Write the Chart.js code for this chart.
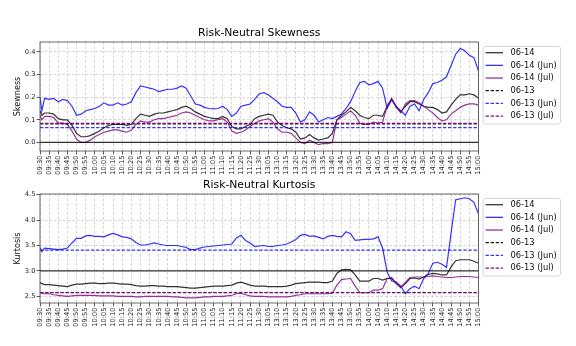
<!DOCTYPE html>
<html>
<head>
<meta charset="utf-8">
<script src="https://cdn.jsdelivr.net/npm/chart.js@4.4.1/dist/chart.umd.min.js"></script>
<style>
  html, body { margin: 0; padding: 0; background: #fff; }
  #wrap { position: relative; width: 576px; height: 346px; overflow: hidden; }
  canvas { position: absolute; left: 0; }
  #skewChart { top: 0; }
  #kurtChart { top: 176px; }
</style>
</head>
<body>
<div id="wrap">
  <canvas id="skewChart" width="576" height="180"></canvas>
  <canvas id="kurtChart" width="576" height="170"></canvas>
</div>
<script>
// x tick labels, one every 5 trading minutes (lunch break collapsed)
const tickLabels = ['09:30','09:35','09:40','09:45','09:50','09:55','10:00','10:05','10:10','10:15',
  '10:20','10:25','10:30','10:35','10:40','10:45','10:50','10:55','11:00','11:05','11:10','11:15',
  '11:20','11:25','11:30','13:05','13:10','13:15','13:20','13:25','13:30','13:35','13:40','13:45',
  '13:50','13:55','14:00','14:05','14:10','14:15','14:20','14:25','14:30','14:35','14:40','14:45',
  '14:50','14:55','15:00'];

// sample positions, in trading minutes since 09:30
const minutes = [0,1,2.5,5,7.5,10,12.5,15,17.5,20,
  22.5,25,27.5,30,32.5,35,37.5,40,42.5,45,
  47.5,50,52.5,55,57.5,60,62.5,65,67.5,70,
  72.5,75,77.5,80,82.5,85,87.5,90,92.5,95,
  97.5,100,102.5,105,107.5,110,112.5,115,117.5,120,
  122.5,125,127.5,130,132.5,135,137.5,140,142.5,145,
  147.5,150,152.5,155,157.5,160,162.5,165,167.5,170,
  172.5,175,177.5,180,182.5,185,187.5,190,192.5,195,
  197.5,200,202.5,205,207.5,210,212.5,215,217.5,220,
  222.5,225,227.5,230,232.5,235,237.5,240];

// skewness
const skewAll = [0.14,0.12,0.13,0.13,0.125,0.105,0.1,0.1,0.075,0.04,
  0.025,0.025,0.03,0.04,0.05,0.065,0.075,0.08,0.08,0.08,
  0.075,0.08,0.105,0.125,0.12,0.115,0.125,0.13,0.13,0.135,
  0.14,0.145,0.155,0.16,0.15,0.135,0.125,0.115,0.11,0.105,
  0.105,0.115,0.105,0.07,0.06,0.06,0.07,0.08,0.105,0.115,
  0.12,0.125,0.12,0.09,0.075,0.065,0.06,0.045,0.015,0.02,
  0.035,0.02,0.01,0.015,0.02,0.04,0.1,0.12,0.135,0.155,
  0.14,0.12,0.11,0.105,0.12,0.12,0.115,0.16,0.19,0.16,
  0.135,0.16,0.18,0.18,0.17,0.16,0.155,0.155,0.145,0.13,
  0.135,0.165,0.19,0.21,0.21,0.215,0.21,0.195];
const skewJun = [0.2,0.14,0.195,0.19,0.195,0.18,0.19,0.185,0.16,0.12,
  0.125,0.14,0.145,0.15,0.16,0.175,0.165,0.165,0.175,0.165,
  0.17,0.18,0.22,0.25,0.245,0.24,0.235,0.225,0.23,0.235,
  0.235,0.24,0.25,0.24,0.205,0.17,0.165,0.155,0.15,0.148,
  0.15,0.16,0.145,0.115,0.13,0.16,0.165,0.17,0.19,0.215,
  0.22,0.21,0.195,0.18,0.16,0.155,0.155,0.13,0.09,0.1,
  0.135,0.12,0.09,0.1,0.11,0.105,0.115,0.125,0.15,0.18,
  0.225,0.265,0.27,0.255,0.26,0.27,0.24,0.15,0.19,0.155,
  0.14,0.12,0.16,0.17,0.14,0.19,0.22,0.26,0.265,0.275,
  0.29,0.34,0.39,0.415,0.405,0.385,0.375,0.315];
const skewJul = [0.12,0.1,0.115,0.115,0.11,0.085,0.085,0.08,0.05,0.015,
  0.0,0.0,0.01,0.025,0.035,0.045,0.05,0.055,0.055,0.05,
  0.045,0.055,0.08,0.095,0.09,0.09,0.1,0.105,0.105,0.11,
  0.115,0.12,0.13,0.135,0.13,0.12,0.11,0.1,0.095,0.095,
  0.1,0.105,0.09,0.05,0.04,0.045,0.055,0.07,0.085,0.095,
  0.1,0.105,0.09,0.06,0.045,0.045,0.04,0.02,0.0,-0.005,
  0.01,0.0,-0.01,-0.005,-0.005,0.0,0.1,0.11,0.125,0.14,
  0.12,0.085,0.08,0.08,0.09,0.085,0.09,0.16,0.195,0.155,
  0.13,0.17,0.185,0.185,0.175,0.16,0.145,0.13,0.11,0.095,
  0.1,0.125,0.14,0.155,0.165,0.17,0.17,0.165];
const skewPrevDay = [0.082, 0.065, 0.084];   // 06-13, 06-13 (Jun), 06-13 (Jul)
const skewTicks = [0.0, 0.1, 0.2, 0.3, 0.4];

// kurtosis
const kurtAll = [2.77,2.75,2.73,2.73,2.72,2.71,2.7,2.69,2.72,2.74,
  2.74,2.75,2.76,2.76,2.75,2.75,2.76,2.76,2.75,2.74,
  2.74,2.73,2.71,2.7,2.7,2.71,2.71,2.7,2.7,2.69,
  2.69,2.69,2.68,2.67,2.66,2.66,2.67,2.68,2.69,2.7,
  2.7,2.7,2.71,2.72,2.76,2.78,2.75,2.72,2.7,2.7,
  2.7,2.69,2.69,2.69,2.69,2.7,2.72,2.75,2.76,2.77,
  2.78,2.78,2.78,2.77,2.77,2.8,2.95,3.02,3.03,3.02,
  2.92,2.8,2.8,2.8,2.85,2.85,2.82,2.85,2.85,2.75,
  2.67,2.75,2.85,2.86,2.84,2.88,2.93,2.95,2.94,2.92,
  2.92,3.08,3.2,3.22,3.22,3.22,3.19,3.15];
const kurtJun = [3.46,3.38,3.45,3.44,3.43,3.42,3.43,3.45,3.55,3.64,
  3.64,3.69,3.7,3.68,3.68,3.67,3.71,3.74,3.71,3.67,
  3.66,3.63,3.56,3.51,3.51,3.53,3.55,3.53,3.51,3.5,
  3.5,3.5,3.48,3.46,3.42,3.42,3.45,3.47,3.48,3.49,
  3.5,3.51,3.52,3.53,3.65,3.7,3.6,3.55,3.48,3.49,
  3.5,3.48,3.48,3.5,3.51,3.53,3.57,3.62,3.7,3.72,
  3.68,3.69,3.66,3.63,3.68,3.7,3.68,3.67,3.77,3.73,
  3.6,3.61,3.62,3.62,3.63,3.67,3.45,2.98,2.8,2.78,
  2.7,2.55,2.65,2.7,2.65,2.85,2.95,3.15,3.17,3.13,
  3.07,3.75,4.4,4.42,4.44,4.42,4.35,4.12];
const kurtJul = [2.57,2.56,2.55,2.55,2.53,2.52,2.51,2.5,2.51,2.52,
  2.52,2.52,2.52,2.52,2.51,2.51,2.51,2.51,2.5,2.5,
  2.5,2.5,2.49,2.49,2.5,2.5,2.5,2.5,2.5,2.5,
  2.49,2.49,2.48,2.47,2.47,2.47,2.48,2.49,2.49,2.5,
  2.5,2.5,2.51,2.52,2.55,2.56,2.53,2.51,2.5,2.5,
  2.5,2.49,2.49,2.49,2.49,2.49,2.5,2.52,2.53,2.55,
  2.55,2.55,2.55,2.55,2.55,2.56,2.72,2.83,2.84,2.85,
  2.7,2.57,2.57,2.57,2.62,2.62,2.65,2.85,2.87,2.75,
  2.68,2.78,2.87,2.88,2.88,2.88,2.89,2.9,2.89,2.88,
  2.87,2.87,2.88,2.89,2.89,2.89,2.88,2.87];
const kurtPrevDay = [2.57, 3.41, 2.575];
const kurtTicks = [2.5, 3.0, 3.5, 4.0, 4.5];

const FONT = '"DejaVu Sans", sans-serif';

// frame, title and matplotlib-like legend
const framePlugin = {
    id: 'frame',
    afterDraw(chart, args, opts) {
        const ctx = chart.ctx;
        const a = chart.chartArea;
        ctx.save();
        ctx.setLineDash([]);
        ctx.strokeStyle = '#444';
        ctx.lineWidth = 0.8;
        ctx.strokeRect(a.left, a.top, a.right - a.left, a.bottom - a.top);

        ctx.fillStyle = '#000';
        ctx.font = '10.8px ' + FONT;
        ctx.textAlign = 'center';
        ctx.textBaseline = 'middle';
        ctx.fillText(opts.title, (a.left + a.right) / 2, a.top - 8.5);

        // legend box
        const bx = a.right + 4.5, by = a.top + 4.5, bw = 77.5, bh = 77.5, r = 2.5;
        ctx.beginPath();
        ctx.moveTo(bx + r, by);
        ctx.arcTo(bx + bw, by, bx + bw, by + bh, r);
        ctx.arcTo(bx + bw, by + bh, bx, by + bh, r);
        ctx.arcTo(bx, by + bh, bx, by, r);
        ctx.arcTo(bx, by, bx + bw, by, r);
        ctx.closePath();
        ctx.fillStyle = 'rgba(255,255,255,0.8)';
        ctx.fill();
        ctx.strokeStyle = '#d6d6d6';
        ctx.lineWidth = 1;
        ctx.stroke();

        ctx.font = '8.3px ' + FONT;
        ctx.textAlign = 'left';
        const items = chart.data.datasets.filter(d => d.label);
        items.forEach((d, i) => {
            const y = a.top + 10.7 + i * 12.67;
            ctx.beginPath();
            ctx.setLineDash(d.borderDash || []);
            ctx.strokeStyle = d.borderColor;
            ctx.lineWidth = 1.3;
            ctx.moveTo(bx + 2.5, y);
            ctx.lineTo(bx + 20, y);
            ctx.stroke();
            ctx.setLineDash([]);
            ctx.fillStyle = '#111';
            ctx.fillText(d.label, bx + 27.5, y);
        });
        ctx.restore();
    }
};

function series(values) {
    return minutes.map((m, i) => ({ x: m, y: values[i] }));
}
function flat(v) {
    return [{ x: 0, y: v }, { x: 240, y: v }];
}

function makeChart(id, cfg) {
    const ctx = document.getElementById(id).getContext('2d');
    const dash = [3.4, 1.7];
    const sets = [
        { label: '06-14', data: series(cfg.all), borderColor: 'rgba(0,0,0,0.8)' },
        { label: '06-14 (Jun)', data: series(cfg.jun), borderColor: 'rgba(0,0,255,0.8)' },
        { label: '06-14 (Jul)', data: series(cfg.jul), borderColor: 'rgba(128,0,128,0.8)' },
        { label: '06-13', data: flat(cfg.prev[0]), borderColor: 'rgba(0,0,0,0.9)', borderDash: dash },
        { label: '06-13 (Jun)', data: flat(cfg.prev[1]), borderColor: 'rgba(0,0,255,0.8)', borderDash: dash },
        { label: '06-13 (Jul)', data: flat(cfg.prev[2]), borderColor: 'rgba(128,0,128,0.95)', borderDash: dash },
        { label: '', data: flat(cfg.ref), borderColor: 'rgba(0,0,0,0.8)' }
    ];
    sets.forEach((d, i) => {
        d.borderWidth = 1.2;
        d.pointRadius = 0;
        d.tension = 0;
        d.fill = false;
        d.order = 10 - i;
    });

    return new Chart(ctx, {
        type: 'line',
        data: { datasets: sets },
        options: {
            responsive: false,
            animation: false,
            events: [],
            layout: { padding: { left: 0, right: 97.5, top: cfg.top, bottom: 0 } },
            plugins: {
                legend: { display: false },
                tooltip: { enabled: false },
                frame: { title: cfg.title }
            },
            scales: {
                x: {
                    type: 'linear',
                    min: 0,
                    max: 240,
                    afterBuildTicks: s => { s.ticks = tickLabels.map((t, i) => ({ value: i * 5 })); },
                    afterFit: s => { s.height = cfg.xh; },
                    ticks: {
                        autoSkip: false,
                        minRotation: 90,
                        maxRotation: 90,
                        padding: 1,
                        color: '#222',
                        font: { family: FONT, size: 6.7 },
                        callback: v => tickLabels[Math.round(v / 5)]
                    },
                    grid: { color: '#c8c8c8', lineWidth: 0.8, tickLength: 3.5, tickColor: '#333', tickWidth: 0.8 },
                    border: { display: false, dash: [2.6, 2] }
                },
                y: {
                    min: cfg.min,
                    max: cfg.max,
                    afterBuildTicks: s => { s.ticks = cfg.ticks.map(v => ({ value: v })); },
                    afterFit: s => { s.width = 40; },
                    title: { display: true, text: cfg.ylabel, color: '#111', font: { family: FONT, size: 8.1 }, padding: { top: 13, bottom: 0 } },
                    ticks: {
                        padding: 1,
                        color: '#222',
                        font: { family: FONT, size: 6.7 },
                        callback: v => v.toFixed(1)
                    },
                    grid: { color: '#c8c8c8', lineWidth: 0.8, tickLength: 3.5, tickColor: '#333', tickWidth: 0.8 },
                    border: { display: false, dash: [2.6, 2] }
                }
            }
        },
        plugins: [framePlugin]
    });
}

makeChart('skewChart', {
    title: 'Risk-Neutral Skewness', ylabel: 'Skewness',
    all: skewAll, jun: skewJun, jul: skewJul, prev: skewPrevDay, ref: 0,
    min: -0.038, max: 0.444, ticks: skewTicks, top: 42, xh: 29
});
makeChart('kurtChart', {
    title: 'Risk-Neutral Kurtosis', ylabel: 'Kurtosis',
    all: kurtAll, jun: kurtJun, jul: kurtJul, prev: kurtPrevDay, ref: 3,
    min: 2.368, max: 4.514, ticks: kurtTicks, top: 18, xh: 43
});
</script>
</body>
</html>
